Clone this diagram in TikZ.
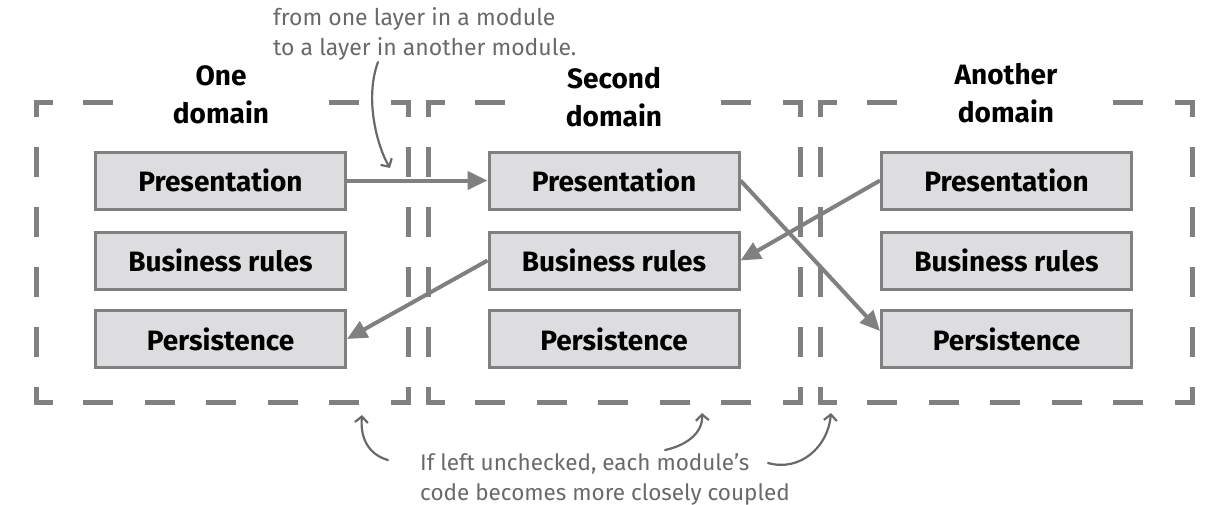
\documentclass[tikz,border=0pt]{standalone}
\usepackage{fontspec}
\setmainfont{Fira Sans}
\usetikzlibrary{arrows.meta}

\definecolor{framegray}{RGB}{128,128,128}
\definecolor{layerfill}{RGB}{221,221,223}
\definecolor{notegray}{RGB}{105,105,105}

\tikzset{
    frame/.style={draw=framegray, line width=5pt},
    layer/.style={draw=framegray, fill=layerfill, line width=3pt, minimum width=250pt, minimum height=57pt, inner sep=0pt, font=\bfseries\fontsize{28}{34}\selectfont},
    title/.style={align=center, inner sep=0pt, font=\bfseries\fontsize{28}{38}\selectfont},
    note/.style={align=left, inner sep=0pt, text=notegray},
    link/.style={draw=framegray, line width=4pt, -{Triangle[length=20pt,width=18pt]}},
    remark/.style={draw=notegray, line width=2.2pt, line cap=round, -{Straight Barb[length=6pt,width=13pt]}},
}

% dashed frame of one domain: left x, right x
\newcommand{\domainframe}[2]{%
    \draw[frame] (#1,117) |- (#1+17,102);
    \draw[frame] (#2-17,102) -| (#2,117);
    \draw[frame] (#1,387) |- (#1+17,402);
    \draw[frame] (#2-17,402) -| (#2,387);
    \foreach \k in {0,4}
        \draw[frame] (#1+47+61.5*\k,102) -- +(30,0);
    \foreach \k in {0,...,4}
        \draw[frame] (#1+47+61.5*\k,402) -- +(30,0);
    \foreach \y in {147,207,267,327} {
        \draw[frame] (#1,\y) -- +(0,30);
        \draw[frame] (#2,\y) -- +(0,30);
    }
}

\begin{document}
\begin{tikzpicture}[x=1pt, y=-1pt]
    \useasboundingbox (0,0) rectangle (1224,504);

    % domains
    \domainframe{36}{408}
    \domainframe{428}{800}
    \domainframe{820}{1192}
    \node[title] (one) at (221,95) {One\\domain};
    \node[title] (second) at (614,97) {Second\\domain};
    \node[title] (another) at (1006,93) {Another\\domain};

    % layers
    \foreach \c/\x in {1/220.5, 2/614, 3/1006.5} {
        \node[layer] (pres\c) at (\x,180.5) {Presentation};
        \node[layer] (rules\c) at (\x,260.5) {Business rules};
        \node[layer] (pers\c) at (\x,339) {Persistence};
    }

    % dependencies across modules
    \draw[link] (pres1.east) -- (pres2.west);
    \draw[link] (pres2.east) -- ([yshift=8pt]pers3.west);
    \draw[link] (pres3.west) -- (rules2.east);
    \draw[link] (rules2.west) -- (pers1.east);

    % notes (base = last line)
    \node[note, anchor=base west, font=\fontsize{23}{30}\selectfont] (topnote) at (273,55) {from one layer in a module\\to a layer in another module.};
    \node[note, anchor=base west, font=\fontsize{22.5}{30}\selectfont] (bottomnote) at (420,500) {If left unchecked, each module's\\code becomes more closely coupled};

    \coordinate (crossing) at (390,168);
    \coordinate (gapA) at (362,415);
    \coordinate (gapB) at (702,413);
    \coordinate (gapC) at (831,413);
    \draw[remark] (378,62) .. controls (364,100) and (378,148) .. (crossing);
    \draw[remark] (388,460) .. controls (370,455) and (360,440) .. (gapA);
    \draw[remark] (665,450) .. controls (688,445) and (703,432) .. (gapB);
    \draw[remark] (768,463) .. controls (800,472) and (828,447) .. (gapC);
\end{tikzpicture}
\end{document}
